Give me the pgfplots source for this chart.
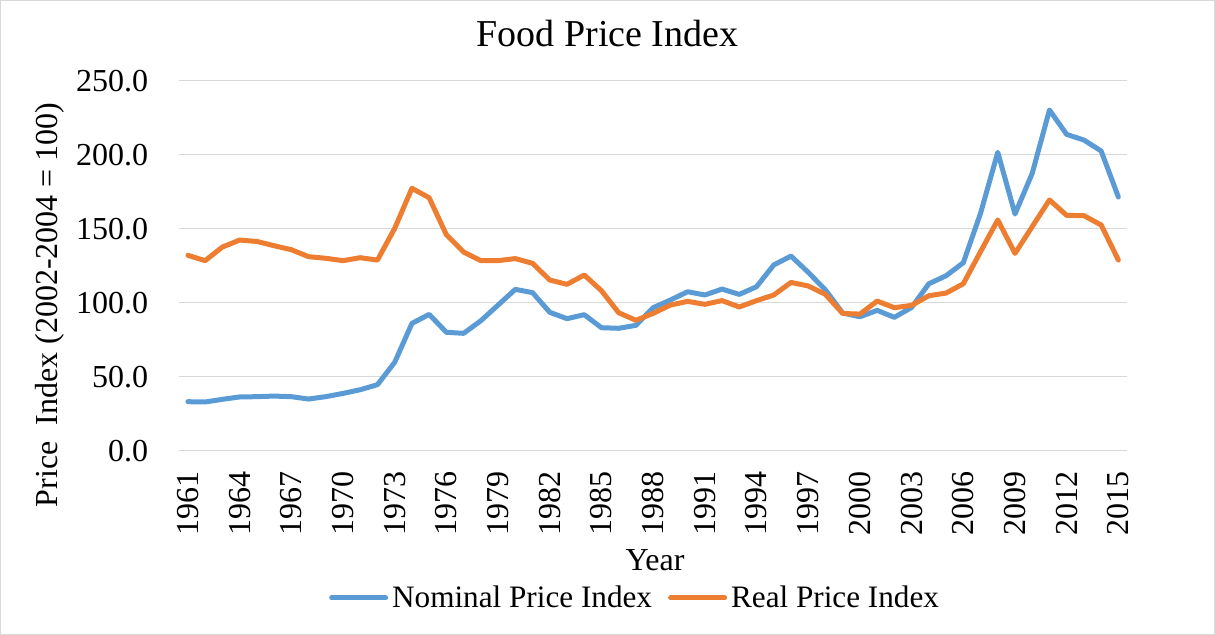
\documentclass[border=0pt]{standalone}
\usepackage{pgfplots}
\pgfplotsset{compat=1.18}
\usepackage{pgfplotstable}
\usepackage{fontspec}
\setmainfont{Liberation Serif}
\definecolor{nomblue}{HTML}{5B9BD5}
\definecolor{realorange}{HTML}{ED7D31}
\definecolor{gridgray}{HTML}{D9D9D9}

\pgfplotstableread{
year nominal real
1961 33.1 132.0
1962 32.9 128.4
1963 34.7 137.6
1964 36.3 142.3
1965 36.5 141.4
1966 36.9 138.5
1967 36.5 135.8
1968 34.9 131.1
1969 36.5 130.0
1970 38.7 128.4
1971 41.2 130.4
1972 44.6 128.8
1973 59.7 150.2
1974 86.0 177.3
1975 92.1 170.9
1976 80.0 145.9
1977 79.3 134.2
1978 87.8 128.4
1979 98.4 128.4
1980 109.0 129.8
1981 106.8 126.6
1982 93.5 115.3
1983 89.2 112.4
1984 91.9 118.7
1985 83.1 108.1
1986 82.7 93.2
1987 84.7 88.1
1988 96.6 92.8
1989 101.8 98.4
1990 107.4 100.9
1991 105.2 98.9
1992 109.2 101.4
1993 105.6 97.1
1994 110.8 101.4
1995 125.5 105.2
1996 131.5 113.7
1997 120.5 111.3
1998 108.6 105.6
1999 93.0 92.7
2000 90.5 92.3
2001 94.8 101.1
2002 90.1 96.6
2003 96.8 98.2
2004 112.8 104.7
2005 118.2 106.5
2006 127.0 112.8
2007 160.4 134.5
2008 201.6 155.9
2009 159.9 133.3
2010 187.4 151.4
2011 230.2 169.4
2012 213.7 159.0
2013 209.9 158.8
2014 202.5 152.5
2015 171.4 128.8
}\datatable

\begin{document}
\begin{tikzpicture}
\path[use as bounding box] (0,0) rectangle (607.5pt,317.5pt);
\begin{axis}[
  at={(89.65pt,92.15pt)}, anchor=south west,
  scale only axis,
  width=473.85pt, height=185pt,
  xmin=1960.5, xmax=2015.5,
  ymin=0, ymax=250,
  xtick={1961,1964,...,2015},
  ytick={0,50,...,250},
  major tick length=0pt,
  axis line style={draw=none},
  ymajorgrids, grid style={gridgray, line width=0.75pt},
  /pgf/number format/assume math mode=true,
  xticklabel shift=7pt,
  xticklabel style={rotate=90, anchor=east, font=\fontsize{16}{19}\selectfont, /pgf/number format/1000 sep=},
  yticklabel style={font=\fontsize{16}{19}\selectfont, xshift=-12pt, /pgf/number format/fixed, /pgf/number format/fixed zerofill, /pgf/number format/precision=1},
  title={Food Price Index},
  title style={font=\fontsize{19}{23}\selectfont, at={(axis description cs:0.452,1.094)}, anchor=center},
  xlabel={Year},
  xlabel style={font=\fontsize{16}{19}\selectfont, at={(axis description cs:0.502,-0.295)}, anchor=center},
  ylabel={Price \ Index (2002-2004 = 100)},
  ylabel style={font=\fontsize{16}{19}\selectfont, at={(axis description cs:-0.1364,0.394)}, anchor=center, rotate=0},
  legend columns=2,
  legend style={draw=none, fill=none, font=\fontsize{15.6}{19}\selectfont,
    at={(axis description cs:0.482,-0.398)}, anchor=center,
    /tikz/every even column/.append style={column sep=6pt},
    inner sep=0pt, row sep=0pt},
  legend image code/.code={\draw[#1] (0pt,0pt) -- (27pt,0pt);},
  every axis plot/.append style={line width=2.5pt, line join=round, line cap=round},
  clip=false,
]
\addplot[nomblue, mark=none] table[x=year, y=nominal] {\datatable};
\addlegendentry{Nominal Price Index}
\addplot[realorange, mark=none] table[x=year, y=real] {\datatable};
\addlegendentry{Real Price Index}
\end{axis}
\draw[gridgray, line width=0.6pt] (0.3pt,0.3pt) rectangle (607.2pt,317.2pt);
\end{tikzpicture}
\end{document}
